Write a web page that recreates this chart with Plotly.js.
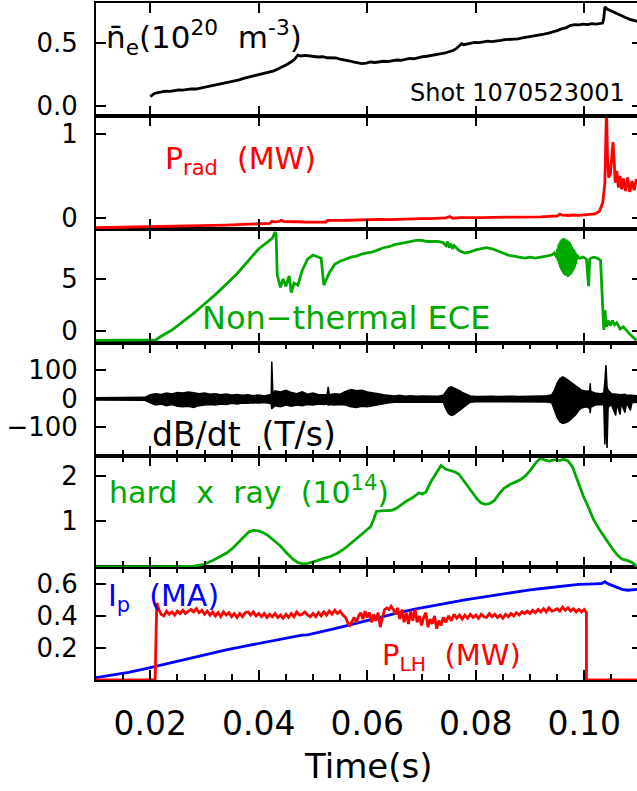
<!DOCTYPE html>
<html>
<head>
<meta charset="utf-8">
<script src="https://cdn.plot.ly/plotly-3.0.1.min.js"></script>
<style>
html,body{margin:0;padding:0;overflow:hidden;background:#fff;}
#chart{width:642px;height:791px;}
</style>
</head>
<body>
<div id="chart"></div>
<script>
// ---------------- DATA ----------------
const t_ne = [0.0200,0.0203,0.0207,0.0212,0.0220,0.0228,0.0236,0.0245,0.0252,0.0260,0.0268,0.0276,0.0284,0.0292,0.0300,0.0308,0.0316,0.0324,0.0332,0.0340,0.0348,0.0356,0.0364,0.0372,0.0380,0.0388,0.0396,0.0404,0.0412,0.0420,0.0428,0.0436,0.0444,0.0452,0.0460,0.0466,0.0472,0.0478,0.0486,0.0494,0.0502,0.0510,0.0518,0.0526,0.0534,0.0542,0.0550,0.0558,0.0566,0.0574,0.0582,0.0590,0.0598,0.0606,0.0614,0.0622,0.0630,0.0638,0.0646,0.0654,0.0662,0.0670,0.0678,0.0686,0.0694,0.0702,0.0710,0.0718,0.0726,0.0734,0.0742,0.0750,0.0758,0.0764,0.0770,0.0774,0.0778,0.0784,0.0790,0.0798,0.0806,0.0814,0.0822,0.0830,0.0838,0.0846,0.0854,0.0862,0.0870,0.0878,0.0886,0.0894,0.0902,0.0910,0.0918,0.0926,0.0934,0.0942,0.0950,0.0958,0.0966,0.0974,0.0982,0.0990,0.0998,0.1006,0.1014,0.1022,0.1030,0.1034,0.1036,0.1038,0.1042,0.1048,0.1054,0.1060,0.1068,0.1076,0.1084,0.1092,0.1100];
const ne = [0.075,0.085,0.098,0.105,0.112,0.118,0.116,0.124,0.127,0.126,0.133,0.136,0.135,0.142,0.150,0.156,0.160,0.168,0.175,0.184,0.190,0.200,0.208,0.220,0.228,0.238,0.246,0.255,0.262,0.272,0.280,0.296,0.312,0.330,0.352,0.372,0.405,0.398,0.402,0.396,0.394,0.390,0.392,0.384,0.380,0.382,0.372,0.368,0.360,0.352,0.346,0.338,0.342,0.350,0.346,0.352,0.356,0.354,0.362,0.366,0.364,0.372,0.378,0.376,0.386,0.392,0.396,0.404,0.408,0.414,0.420,0.430,0.442,0.456,0.478,0.496,0.488,0.494,0.500,0.506,0.504,0.510,0.516,0.512,0.520,0.522,0.528,0.530,0.536,0.534,0.542,0.548,0.552,0.558,0.560,0.572,0.580,0.588,0.600,0.614,0.622,0.640,0.648,0.646,0.652,0.648,0.656,0.652,0.658,0.660,0.700,0.790,0.772,0.760,0.742,0.736,0.716,0.704,0.690,0.678,0.672];

const t_prad = [0.0100,0.0130,0.0160,0.0190,0.0220,0.0250,0.0280,0.0310,0.0340,0.0370,0.0400,0.0420,0.0424,0.0430,0.0438,0.0442,0.0446,0.0456,0.0470,0.0485,0.0500,0.0515,0.0524,0.0527,0.0535,0.0550,0.0565,0.0580,0.0595,0.0610,0.0625,0.0640,0.0655,0.0670,0.0685,0.0700,0.0715,0.0730,0.0745,0.0752,0.0758,0.0770,0.0785,0.0800,0.0815,0.0830,0.0845,0.0860,0.0875,0.0890,0.0905,0.0920,0.0935,0.0950,0.0955,0.0960,0.0970,0.0980,0.0990,0.1000,0.1010,0.1020,0.1028,0.1034,0.1038,0.1041,0.1043,0.1045,0.1048,0.1051,0.1053,0.1055,0.1057,0.1060,0.1063,0.1066,0.1069,0.1072,0.1076,0.1080,0.1084,0.1088,0.1092,0.1096,0.1100];
const prad = [-0.115,-0.112,-0.110,-0.106,-0.104,-0.098,-0.095,-0.090,-0.084,-0.076,-0.068,-0.064,-0.040,-0.045,-0.040,-0.025,-0.042,-0.046,-0.044,-0.048,-0.046,-0.050,-0.048,-0.028,-0.030,-0.028,-0.026,-0.022,-0.024,-0.020,-0.016,-0.018,-0.014,-0.010,-0.012,-0.006,-0.008,-0.004,0.002,0.018,-0.002,0.004,0.002,0.006,0.004,0.008,0.006,0.010,0.012,0.010,0.016,0.014,0.020,0.024,0.048,0.034,0.030,0.036,0.032,0.038,0.040,0.050,0.080,0.180,0.420,1.300,0.700,0.480,0.520,0.760,0.900,0.700,0.420,0.560,0.360,0.500,0.340,0.470,0.320,0.480,0.310,0.440,0.330,0.460,0.400];

const t_ece = [0.0100,0.0150,0.0200,0.0210,0.0220,0.0240,0.0260,0.0280,0.0300,0.0320,0.0340,0.0360,0.0370,0.0380,0.0390,0.0400,0.0410,0.0420,0.0425,0.0430,0.0432,0.0434,0.0440,0.0445,0.0450,0.0456,0.0460,0.0465,0.0472,0.0480,0.0490,0.0500,0.0508,0.0515,0.0520,0.0530,0.0540,0.0550,0.0560,0.0570,0.0580,0.0590,0.0600,0.0610,0.0620,0.0630,0.0640,0.0650,0.0660,0.0670,0.0680,0.0690,0.0700,0.0710,0.0720,0.0730,0.0740,0.0745,0.0748,0.0751,0.0754,0.0757,0.0760,0.0770,0.0780,0.0790,0.0800,0.0810,0.0820,0.0830,0.0840,0.0850,0.0860,0.0870,0.0880,0.0890,0.0900,0.0910,0.0920,0.0930,0.0940,0.0945,0.0950,0.0951,0.0952,0.0953,0.0954,0.0955,0.0956,0.0957,0.0958,0.0959,0.0960,0.0961,0.0962,0.0963,0.0964,0.0965,0.0966,0.0967,0.0968,0.0969,0.0970,0.0971,0.0972,0.0973,0.0974,0.0975,0.0976,0.0977,0.0978,0.0979,0.0980,0.0981,0.0982,0.0983,0.0984,0.0985,0.0986,0.0987,0.0988,0.0992,0.0998,0.1004,0.1008,0.1010,0.1012,0.1018,0.1024,0.1030,0.1034,0.1036,0.1038,0.1041,0.1044,0.1048,0.1052,0.1056,0.1060,0.1066,0.1072,0.1078,0.1084,0.1090,0.1096,0.1100];
const ece = [-0.9,-0.9,-0.9,-0.85,-0.5,0.1,0.9,1.7,2.6,3.5,4.5,5.5,6.1,6.7,7.3,7.9,8.3,8.7,8.9,9.5,9.3,5.4,4.2,5.0,4.3,5.3,3.7,4.6,4.4,5.8,6.9,7.3,7.1,7.0,4.4,5.6,6.4,6.7,6.9,7.1,7.2,7.4,7.5,7.6,7.8,8.0,8.1,8.3,8.4,8.5,8.6,8.7,8.7,8.6,8.6,8.6,8.5,8.2,8.6,8.0,8.4,7.9,8.2,7.7,7.5,7.6,7.8,7.9,8.0,7.9,7.7,7.5,7.3,7.2,7.1,7.0,7.1,7.0,7.1,7.2,7.3,7.5,7.0,7.9,6.7,8.3,6.4,8.5,6.1,8.7,5.9,8.8,5.7,8.9,5.5,8.9,5.4,8.8,5.3,8.8,5.3,8.7,5.2,8.6,5.3,8.5,5.4,8.3,5.5,8.1,5.7,7.9,5.9,7.8,6.1,7.6,6.4,7.4,6.8,7.3,7.1,7.0,7.1,6.9,4.3,6.9,7.0,7.1,7.0,6.8,2.0,0.1,2.0,0.4,1.0,0.5,1.0,0.6,0.8,0.2,0.4,0.0,-0.3,-0.6,-0.9];

const t_db = [0.0100,0.0150,0.0190,0.0200,0.0210,0.0220,0.0230,0.0240,0.0250,0.0260,0.0270,0.0280,0.0290,0.0300,0.0310,0.0320,0.0330,0.0340,0.0350,0.0360,0.0370,0.0380,0.0390,0.0400,0.0410,0.0420,0.0423,0.0424,0.0426,0.0430,0.0440,0.0450,0.0460,0.0470,0.0480,0.0490,0.0500,0.0510,0.0520,0.0526,0.0528,0.0530,0.0540,0.0550,0.0560,0.0570,0.0580,0.0590,0.0600,0.0610,0.0620,0.0630,0.0640,0.0650,0.0660,0.0670,0.0680,0.0690,0.0700,0.0710,0.0720,0.0730,0.0740,0.0745,0.0750,0.0755,0.0760,0.0765,0.0770,0.0775,0.0780,0.0785,0.0790,0.0800,0.0810,0.0820,0.0830,0.0840,0.0850,0.0860,0.0870,0.0880,0.0890,0.0900,0.0910,0.0920,0.0930,0.0940,0.0945,0.0950,0.0955,0.0960,0.0965,0.0970,0.0975,0.0980,0.0985,0.0990,0.0995,0.1000,0.1005,0.1010,0.1011,0.1012,0.1020,0.1030,0.1036,0.1038,0.1040,0.1042,0.1044,0.1050,0.1058,0.1060,0.1066,0.1068,0.1075,0.1078,0.1085,0.1088,0.1095,0.1100];
const db_hi = [4,4,5,14,18,15,20,17,22,20,24,21,18,20,16,18,14,17,13,15,12,14,11,13,10,14,14,130,20,28,24,30,22,18,24,16,20,14,16,15,42,14,18,16,26,32,28,30,24,22,18,14,12,10,12,9,11,9,10,9,10,9,12,25,38,42,38,32,28,22,18,14,10,8,9,8,9,8,9,8,9,8,9,10,9,10,10,14,30,55,70,77,72,65,58,50,44,36,30,28,26,28,54,26,20,18,20,60,118,40,30,18,16,14,15,14,16,12,12,12,12,10];
const db_lo = [-4,-4,-5,-14,-22,-18,-24,-20,-26,-28,-26,-30,-24,-22,-20,-22,-18,-20,-16,-18,-15,-16,-14,-15,-13,-16,-18,-35,-30,-24,-28,-22,-26,-22,-24,-20,-22,-18,-20,-18,-22,-20,-22,-20,-22,-28,-30,-26,-28,-24,-22,-16,-14,-12,-12,-11,-12,-10,-12,-10,-11,-10,-12,-35,-52,-58,-55,-48,-42,-34,-26,-18,-12,-10,-10,-9,-10,-9,-10,-9,-10,-9,-10,-10,-10,-11,-11,-14,-40,-65,-80,-86,-84,-80,-72,-62,-54,-40,-32,-30,-28,-34,-50,-30,-22,-20,-22,-160,-60,-172,-30,-20,-58,-16,-55,-16,-48,-14,-40,-14,-14,-12];

const t_hxr = [0.0100,0.0150,0.0200,0.0250,0.0280,0.0300,0.0315,0.0328,0.0340,0.0350,0.0362,0.0373,0.0382,0.0390,0.0400,0.0410,0.0418,0.0428,0.0440,0.0452,0.0463,0.0472,0.0481,0.0490,0.0500,0.0508,0.0520,0.0532,0.0545,0.0558,0.0570,0.0582,0.0592,0.0600,0.0606,0.0612,0.0617,0.0626,0.0635,0.0645,0.0653,0.0662,0.0672,0.0684,0.0695,0.0701,0.0708,0.0717,0.0726,0.0736,0.0745,0.0754,0.0762,0.0769,0.0777,0.0785,0.0795,0.0803,0.0810,0.0818,0.0826,0.0834,0.0843,0.0852,0.0865,0.0882,0.0892,0.0901,0.0912,0.0920,0.0928,0.0936,0.0945,0.0955,0.0962,0.0970,0.0978,0.0988,0.0998,0.1008,0.1017,0.1030,0.1043,0.1052,0.1061,0.1070,0.1080,0.1088,0.1095,0.1100];
const hxr = [0.00,0.00,0.00,0.01,0.02,0.06,0.14,0.22,0.30,0.39,0.54,0.68,0.77,0.80,0.79,0.74,0.68,0.58,0.46,0.30,0.17,0.10,0.07,0.08,0.11,0.14,0.19,0.23,0.30,0.40,0.52,0.63,0.74,0.82,0.88,1.05,1.22,1.23,1.23,1.24,1.28,1.36,1.44,1.52,1.62,1.60,1.64,1.86,2.04,2.22,2.14,2.10,2.08,2.03,1.90,1.76,1.60,1.48,1.40,1.37,1.39,1.45,1.60,1.72,1.82,1.91,2.00,2.12,2.30,2.38,2.34,2.32,2.35,2.33,2.36,2.32,2.20,1.86,1.56,1.30,1.04,0.78,0.54,0.40,0.26,0.17,0.14,0.10,0.03,0.00];

const t_ip = [0.0100,0.0130,0.0160,0.0190,0.0220,0.0250,0.0280,0.0310,0.0340,0.0370,0.0400,0.0430,0.0460,0.0480,0.0490,0.0510,0.0540,0.0570,0.0600,0.0630,0.0660,0.0690,0.0720,0.0750,0.0780,0.0810,0.0840,0.0870,0.0900,0.0930,0.0960,0.0990,0.1020,0.1032,0.1038,0.1042,0.1050,0.1060,0.1070,0.1080,0.1090,0.1100];
const ip = [0.015,0.030,0.048,0.070,0.094,0.118,0.142,0.165,0.188,0.208,0.228,0.248,0.268,0.280,0.282,0.296,0.320,0.346,0.372,0.398,0.422,0.444,0.464,0.484,0.500,0.516,0.532,0.548,0.562,0.574,0.586,0.596,0.600,0.602,0.614,0.604,0.592,0.578,0.566,0.560,0.562,0.566];

// P_LH: off before and after the pulse, noisy plateau during it
const t_plh_off1 = [0.0100, 0.0209];
const plh_off1 = [0, 0];
const t_plh_on = [0.0209,0.0212,0.0216,0.0220,0.0225,0.0230,0.0235,0.0240,0.0245,0.0250,0.0255,0.0260,0.0265,0.0270,0.0275,0.0280,0.0285,0.0290,0.0295,0.0300,0.0305,0.0310,0.0315,0.0320,0.0325,0.0330,0.0335,0.0340,0.0345,0.0350,0.0355,0.0360,0.0365,0.0370,0.0375,0.0380,0.0385,0.0390,0.0395,0.0400,0.0405,0.0410,0.0415,0.0420,0.0425,0.0430,0.0435,0.0440,0.0445,0.0450,0.0455,0.0460,0.0465,0.0470,0.0475,0.0480,0.0485,0.0490,0.0495,0.0500,0.0505,0.0510,0.0515,0.0520,0.0525,0.0530,0.0535,0.0540,0.0545,0.0550,0.0555,0.0560,0.0565,0.0568,0.0572,0.0576,0.0580,0.0584,0.0588,0.0592,0.0596,0.0600,0.0604,0.0608,0.0612,0.0616,0.0620,0.0624,0.0628,0.0632,0.0636,0.0640,0.0644,0.0648,0.0652,0.0656,0.0660,0.0664,0.0668,0.0672,0.0676,0.0680,0.0684,0.0688,0.0692,0.0696,0.0700,0.0704,0.0708,0.0712,0.0716,0.0720,0.0724,0.0728,0.0732,0.0736,0.0740,0.0745,0.0750,0.0755,0.0760,0.0765,0.0770,0.0775,0.0780,0.0785,0.0790,0.0795,0.0800,0.0805,0.0810,0.0815,0.0820,0.0825,0.0830,0.0835,0.0840,0.0845,0.0850,0.0855,0.0860,0.0865,0.0870,0.0875,0.0880,0.0885,0.0890,0.0895,0.0900,0.0905,0.0910,0.0915,0.0920,0.0925,0.0930,0.0935,0.0940,0.0945,0.0950,0.0955,0.0960,0.0965,0.0970,0.0975,0.0980,0.0985,0.0990,0.0995,0.1000,0.1004,0.1004];
const plh_on = [0,0.48,0.44,0.41,0.40,0.43,0.41,0.425,0.405,0.43,0.415,0.435,0.415,0.43,0.44,0.425,0.445,0.42,0.435,0.41,0.43,0.405,0.425,0.40,0.42,0.395,0.425,0.405,0.42,0.395,0.415,0.39,0.415,0.395,0.42,0.425,0.405,0.425,0.40,0.415,0.395,0.415,0.39,0.41,0.395,0.415,0.39,0.405,0.385,0.41,0.39,0.415,0.395,0.425,0.405,0.41,0.425,0.405,0.395,0.415,0.395,0.42,0.40,0.425,0.405,0.43,0.41,0.435,0.415,0.43,0.405,0.39,0.35,0.34,0.37,0.39,0.36,0.40,0.42,0.38,0.43,0.39,0.42,0.36,0.41,0.37,0.42,0.33,0.39,0.44,0.45,0.44,0.46,0.44,0.41,0.45,0.38,0.44,0.36,0.42,0.35,0.43,0.37,0.44,0.36,0.40,0.34,0.39,0.42,0.33,0.38,0.35,0.40,0.32,0.37,0.34,0.39,0.36,0.40,0.37,0.41,0.385,0.405,0.38,0.405,0.385,0.41,0.39,0.405,0.385,0.41,0.395,0.39,0.415,0.395,0.41,0.39,0.405,0.385,0.41,0.395,0.415,0.40,0.42,0.405,0.425,0.415,0.43,0.415,0.435,0.42,0.44,0.425,0.445,0.425,0.45,0.43,0.435,0.445,0.43,0.455,0.435,0.45,0.43,0.445,0.425,0.44,0.425,0.44,0.42,0];
const t_plh_off2 = [0.1004, 0.1100];
const plh_off2 = [0, 0];

// ---------------- LAYOUT ----------------
const W = 642, H = 791;
const L = 96, TOP = 3, BOT = 680;
const bounds = [3,116,229,343,456,567,680];
const py2dom = p => (BOT - p) / (BOT - TOP);
const px2x = p => (p - L) / (W - L);
const xr = [0.0100, 0.0100 + (W - L) / 5425];

const FONT = 'DejaVu Sans';
const GREEN = '#00a800', RED = '#ff0000', BLUE = '#0000ff';

function xax(i) {
  const a = {
    domain: [0, 1], range: xr, anchor: 'y' + (i === 1 ? '' : i),
    showline: true, linewidth: 2, linecolor: '#000', mirror: 'ticks',
    ticks: 'inside', ticklen: 10, tickwidth: 2, tickcolor: '#000',
    tickmode: 'linear', tick0: 0, dtick: 0.02, tickformat: '.2f',
    showgrid: false, zeroline: false, fixedrange: true,
    showticklabels: i === 1,
    tickfont: {family: FONT, size: 33, color: '#000'}
  };
  if (i === 1) {
    a.ticklabelstandoff = 13;
  } else {
    a.matches = 'x';
  }
  return a;
}
function yax(dom, range, tv, tt) {
  return {
    domain: dom, range: range, tickmode: 'array', tickvals: tv, ticktext: tt,
    showline: true, linewidth: 2, linecolor: '#000', mirror: 'ticks',
    ticks: 'inside', ticklen: 10, tickwidth: 2, tickcolor: '#000',
    showgrid: false, zeroline: false, fixedrange: true,
    tickfont: {family: FONT, size: 26, color: '#000'},
    ticklabelstandoff: 11
  };
}
// panel order: 1 = bottom (Ip), 6 = top (ne)
const dom = i => [py2dom(bounds[7 - i]), py2dom(bounds[6 - i])];

const layout = {
  width: W, height: H,
  margin: {l: L, r: 0, t: TOP, b: H - BOT},
  paper_bgcolor: '#fff', plot_bgcolor: 'rgba(0,0,0,0)',
  showlegend: false,
  font: {family: FONT, color: '#000'},
  xaxis: xax(1), xaxis2: xax(2), xaxis3: xax(3), xaxis4: xax(4), xaxis5: xax(5), xaxis6: xax(6),
  yaxis: yax(dom(1), [0, 0.705], [0.2, 0.4, 0.6], ['0.2', '0.4', '0.6']),
  yaxis2: yax(dom(2), [0, 2.43], [1, 2], ['1', '2']),
  yaxis3: yax(dom(3), [-200, 195], [-100, 0, 100], ['\u2212100', '0', '100']),
  yaxis4: yax(dom(4), [-1.15, 9.8], [0, 5], ['0', '5']),
  yaxis5: yax(dom(5), [-0.13, 1.21], [0, 1], ['0', '1']),
  yaxis6: yax(dom(6), [-0.08, 0.82], [0.0, 0.5], ['0.0', '0.5']),
  annotations: []
};
const minor = {dtick: 0.005, tick0: 0, ticklen: 6, tickwidth: 2, tickcolor: '#000', ticks: 'inside'};
layout.xaxis.minor = minor; layout.xaxis2.minor = minor; layout.xaxis3.minor = minor;

function ann(text, pxl, pyc, color, size) {
  layout.annotations.push({
    text: text, xref: 'paper', yref: 'paper', x: px2x(pxl), y: py2dom(pyc),
    xanchor: 'left', yanchor: 'middle', showarrow: false,
    font: {family: FONT, size: size, color: color}
  });
}
ann('n\u0304<sub>e</sub>(10<sup>20</sup>  m<sup>-3</sup>)', 104, 38, '#000', 31);
ann('Shot 1070523001', 408, 93, '#000', 24);
ann('P<sub>rad</sub>  (MW)', 163, 160, RED, 30);
ann('Non\u2212thermal ECE', 200, 318, GREEN, 32);
ann('dB/dt  (T/s)', 150, 434, '#000', 33);
ann('hard  x  ray  (10<sup>14</sup>)', 107, 490, GREEN, 30);
ann('I<sub>p</sub>  (MA)', 106, 597, BLUE, 30);
ann('P<sub>LH</sub>  (MW)', 380, 657, RED, 29);
// x-axis title
layout.annotations.push({
  text: 'Time(s)', xref: 'paper', yref: 'paper', x: px2x(368), y: py2dom(766),
  xanchor: 'center', yanchor: 'middle', showarrow: false,
  font: {family: FONT, size: 34, color: '#000'}
});

const plhLine = {color: RED, width: 2.8};
const traces = [
  {x: t_ne, y: ne, xaxis: 'x6', yaxis: 'y6', mode: 'lines', line: {color: '#000', width: 2.8}},
  {x: t_prad, y: prad, xaxis: 'x5', yaxis: 'y5', mode: 'lines', line: {color: RED, width: 2.8}},
  {x: t_ece, y: ece, xaxis: 'x4', yaxis: 'y4', mode: 'lines', line: {color: GREEN, width: 2.8}},
  {x: t_db, y: db_lo, xaxis: 'x3', yaxis: 'y3', mode: 'lines', line: {color: '#000', width: 1.5}},
  {x: t_db, y: db_hi, xaxis: 'x3', yaxis: 'y3', mode: 'lines', fill: 'tonexty', fillcolor: '#000', line: {color: '#000', width: 1.5}},
  {x: t_hxr, y: hxr, xaxis: 'x2', yaxis: 'y2', mode: 'lines', line: {color: GREEN, width: 2.8}},
  {x: t_ip, y: ip, xaxis: 'x', yaxis: 'y', mode: 'lines', line: {color: BLUE, width: 2.8}},
  {x: t_plh_off1, y: plh_off1, xaxis: 'x', yaxis: 'y', mode: 'lines', line: plhLine, cliponaxis: false},
  {x: t_plh_on, y: plh_on, xaxis: 'x', yaxis: 'y', mode: 'lines', line: plhLine},
  {x: t_plh_off2, y: plh_off2, xaxis: 'x', yaxis: 'y', mode: 'lines', line: plhLine, cliponaxis: false}
];

Plotly.newPlot('chart', traces, layout, {staticPlot: true, displayModeBar: false});
</script>
</body>
</html>
